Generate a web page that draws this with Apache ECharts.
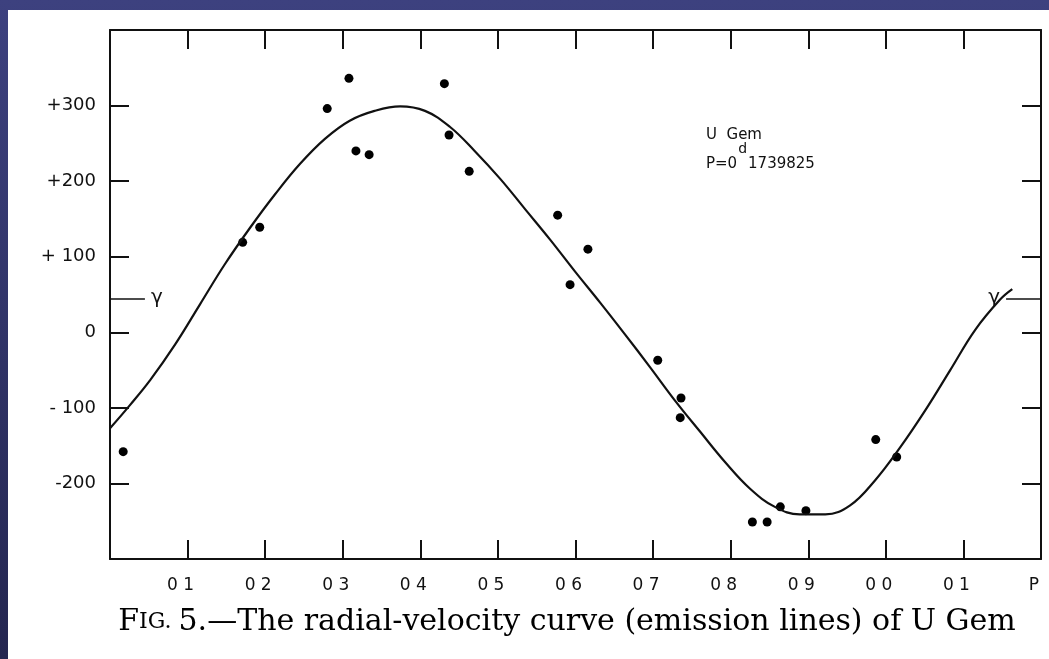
<!DOCTYPE html>
<html>
<head>
<meta charset="utf-8">
<script src="https://cdn.jsdelivr.net/npm/echarts@6/dist/echarts.min.js"></script>
<style>
html,body{margin:0;padding:0;background:#2e3164;}
#c{width:1049px;height:659px;}
</style>
</head>
<body>
<div id="c"></div>
<script>
// Phase ticks and labels
const phaseTicks = [0, 0.1, 0.2, 0.3, 0.4, 0.5, 0.6, 0.7, 0.8, 0.9, 1.0, 1.1, 1.2];
const phaseLabels = ['', '0 1', '0 2', '0 3', '0 4', '0 5', '0 6', '0 7', '0 8', '0 9', '0 0', '0 1', 'P'];
const velTicks = [-300, -200, -100, 0, 100, 200, 300, 400];
const velLabels = ['', '-200', '- 100', '0', '+ 100', '+200', '+300', ''];
const gammaVel = 45;

// Observed radial velocities (phase, km/s)
const obsPhase = [0.017, 0.171, 0.193, 0.280, 0.308, 0.317, 0.334, 0.431, 0.437, 0.463, 0.577, 0.593, 0.616, 0.706, 0.736, 0.735, 0.828, 0.847, 0.864, 0.897, 0.987, 1.014];
const obsVel   = [-158, 119, 139, 296, 336, 240, 235, 329, 261, 213, 155, 63, 110, -37, -87, -113, -251, -251, -231, -236, -142, -165];

// Fitted velocity curve
const curvePhase = [0, 0.026, 0.052, 0.084, 0.116, 0.148, 0.181, 0.213, 0.245, 0.277, 0.309, 0.341, 0.374, 0.406, 0.438, 0.470, 0.503, 0.535, 0.567, 0.599, 0.632, 0.664, 0.696, 0.728, 0.761, 0.793, 0.825, 0.857, 0.889, 0.922, 0.954, 0.986, 1.018, 1.051, 1.083, 1.115, 1.147, 1.163];
const curveVel   = [-127, -96, -63, -16, 37, 90, 139, 183, 223, 256, 280, 293, 299, 293, 272, 240, 203, 163, 123, 81, 39, -3, -46, -90, -132, -172, -207, -231, -241, -241, -229, -196, -153, -103, -50, 3, 43, 57];

const chart = echarts.init(document.getElementById('c'));
const font = 'DejaVu Sans';
const ink = '#111';

function xLab(v){ const i = phaseTicks.findIndex(t => Math.abs(t - v) < 1e-6); return i >= 0 ? phaseLabels[i] : ''; }
function yLab(v){ const i = velTicks.findIndex(t => Math.abs(t - v) < 1e-6); return i >= 0 ? velLabels[i] : ''; }

const axisLineStyle = {show: true, onZero: false, lineStyle: {color: ink, width: 2}};
const tickStyle = {show: true, inside: true, length: 19, lineStyle: {color: ink, width: 2}};

chart.setOption({
  backgroundColor: {
    type: 'linear', x: 0, y: 0, x2: 0, y2: 1,
    colorStops: [{offset: 0, color: '#3d417f'}, {offset: 1, color: '#242650'}]
  },
  animation: false,
  graphic: [
    {type: 'rect', z: -10, shape: {x: 8, y: 10, width: 1041, height: 649}, style: {fill: '#ffffff'}},
    {type: 'text', left: 706, top: 128, style: {text: 'U  Gem', font: '15px "DejaVu Sans"', fill: ink}},
    {type: 'text', left: 706, top: 142, style: {
      text: '{a|P=0}{s|d}{a|1739825}', fill: ink,
      rich: {a: {font: '15px "DejaVu Sans"', fill: ink, verticalAlign: 'bottom', lineHeight: 30},
             s: {font: '14px "DejaVu Sans"', fill: ink, verticalAlign: 'top', lineHeight: 30, padding: [0, 1, 0, 1]}}
    }},
    {type: 'text', x: 567, y: 607, style: {
      text: '{b|F}{c|IG. }{b|5.—The radial-velocity curve (emission lines) of U Gem}',
      textAlign: 'center',
      rich: {b: {font: '30px "DejaVu Serif"', fill: '#000'}, c: {font: '22px "DejaVu Serif"', fill: '#000'}}
    }}
  ],
  grid: {left: 110, right: 8, top: 30, bottom: 100},
  xAxis: [
    {type: 'value', min: 0, max: 1.2, interval: 0.1, position: 'bottom',
     axisLine: axisLineStyle, axisTick: tickStyle, splitLine: {show: false},
     axisLabel: {formatter: xLab, color: ink, fontFamily: font, fontSize: 17, margin: 18, padding: [0, 14, 0, 0], showMinLabel: true, showMaxLabel: true}},
    {type: 'value', min: 0, max: 1.2, interval: 0.1, position: 'top',
     axisLine: axisLineStyle, axisTick: tickStyle, splitLine: {show: false}, axisLabel: {show: false}}
  ],
  yAxis: [
    {type: 'value', min: -300, max: 400, interval: 100, position: 'left',
     axisLine: axisLineStyle, axisTick: tickStyle, splitLine: {show: false},
     axisLabel: {formatter: yLab, color: ink, fontFamily: font, fontSize: 18, margin: 14}},
    {type: 'value', min: -300, max: 400, interval: 100, position: 'right',
     axisLine: axisLineStyle, axisTick: tickStyle, splitLine: {show: false}, axisLabel: {show: false}}
  ],
  series: [
    {type: 'line', smooth: 0.4, symbol: 'none', data: curvePhase.map((p, i) => [p, curveVel[i]]),
     lineStyle: {color: ink, width: 2.2},
     markLine: {
       silent: true, symbol: 'none', animation: false,
       lineStyle: {color: ink, width: 1.6, type: 'solid'},
       label: {show: false},
       data: [
         [{coord: [0, gammaVel], label: {show: true, position: 'end', formatter: 'γ', color: ink, fontSize: 20, fontFamily: font, distance: 6}}, {coord: [0.045, gammaVel]}],
         [{coord: [1.2, gammaVel], label: {show: true, position: 'end', formatter: 'γ', color: ink, fontSize: 20, fontFamily: font, distance: 6}}, {coord: [1.155, gammaVel]}]
       ]
     }},
    {type: 'scatter', symbol: 'circle', symbolSize: 9, data: obsPhase.map((p, i) => [p, obsVel[i]]),
     itemStyle: {color: '#000', opacity: 1}}
  ]
});
</script>
</body>
</html>
